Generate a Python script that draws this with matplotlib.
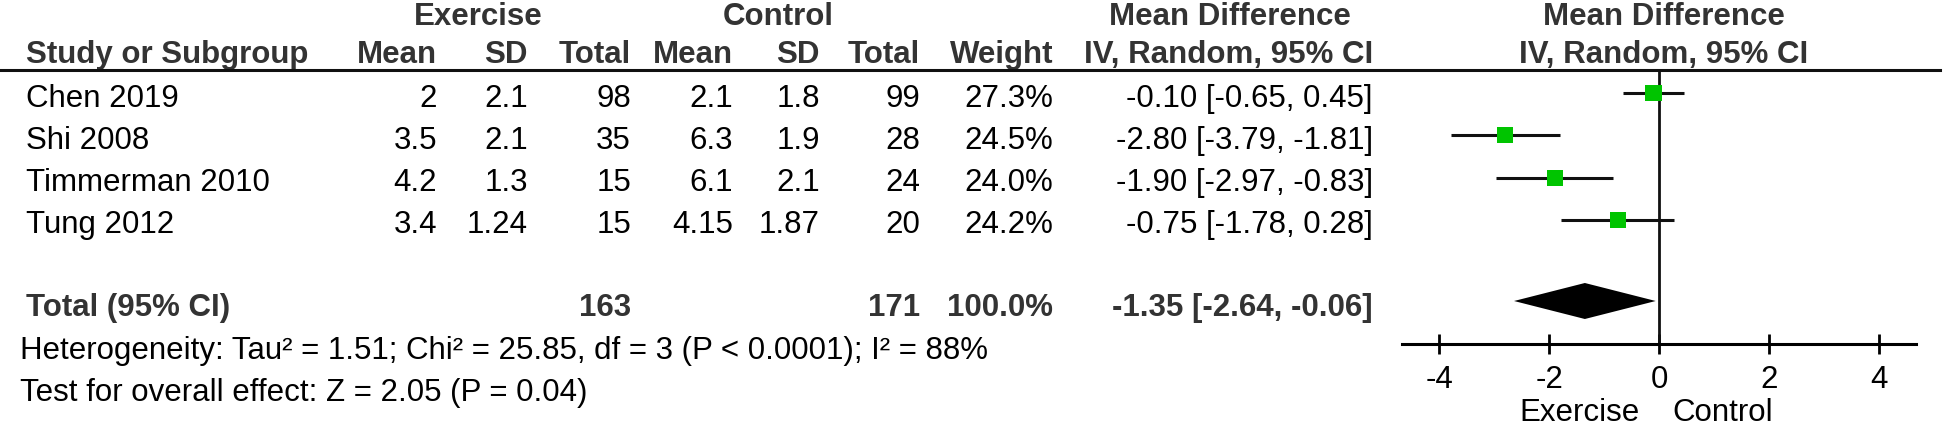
import numpy as np
import matplotlib.pyplot as plt
from matplotlib.lines import Line2D

plt.rcParams['font.family'] = ['Liberation Sans', 'DejaVu Sans']

# data
studies = ['Chen 2019', 'Shi 2008', 'Timmerman 2010', 'Tung 2012']
ex_mean = [2, 3.5, 4.2, 3.4]
ex_sd = [2.1, 2.1, 1.3, 1.24]
ex_n = [98, 35, 15, 15]
ct_mean = [2.1, 6.3, 6.1, 4.15]
ct_sd = [1.8, 1.9, 2.1, 1.87]
ct_n = [99, 28, 24, 20]
weight = [27.3, 24.5, 24.0, 24.2]
md = [-0.10, -2.80, -1.90, -0.75]
ci_lo = [-0.65, -3.79, -2.97, -1.78]
ci_hi = [0.45, -1.81, -0.83, 0.28]
total_md, total_lo, total_hi = -1.35, -2.64, -0.06
het_text = 'Heterogeneity: Tau² = 1.51; Chi² = 25.85, df = 3 (P < 0.0001); I² = 88%'
effect_text = 'Test for overall effect: Z = 2.05 (P = 0.04)'
xticks = [-4, -2, 0, 2, 4]

W, H = 1946, 428
fs = 22.5
hdr_col = '#333333'
green = '#00C400'

fig = plt.figure(figsize=(W / 100, H / 100), dpi=100)

# table part, pixel coordinates
tab = fig.add_axes([0, 0, 1, 1])
tab.set_xlim(0, W)
tab.set_ylim(H, 0)
tab.axis('off')

left_x = 26
col_right = [437, 528, 631, 733, 820, 920, 1053, 1373]
row_px = [99, 141, 183, 225]
total_px = 308

def bold(x, y, s, ha):
    tab.text(x, y, s, ha=ha, va='center', fontsize=fs, fontweight='bold', color=hdr_col)

# headers
bold(478, 17, 'Exercise', 'center')
bold(778, 17, 'Control', 'center')
bold(1230, 17, 'Mean Difference', 'center')
bold(1664, 17, 'Mean Difference', 'center')
bold(left_x, 55, 'Study or Subgroup', 'left')
for x, lab in zip(col_right, ['Mean', 'SD', 'Total', 'Mean', 'SD', 'Total', 'Weight', 'IV, Random, 95% CI']):
    bold(x, 55, lab, 'right')
bold(1664, 55, 'IV, Random, 95% CI', 'center')
fig.add_artist(Line2D([0, 1940 / W], [1 - 70 / H, 1 - 70 / H], color='#111111', lw=2.2))

# study rows
for i, y in enumerate(row_px):
    vals = [f'{ex_mean[i]:g}', f'{ex_sd[i]:g}', str(ex_n[i]),
            f'{ct_mean[i]:g}', f'{ct_sd[i]:g}', str(ct_n[i]),
            f'{weight[i]:.1f}%',
            f'{md[i]:.2f} [{ci_lo[i]:.2f}, {ci_hi[i]:.2f}]']
    tab.text(left_x, y, studies[i], ha='left', va='center', fontsize=fs)
    for x, v in zip(col_right, vals):
        tab.text(x, y, v, ha='right', va='center', fontsize=fs)

# total row
bold(left_x, total_px, 'Total (95% CI)', 'left')
bold(col_right[2], total_px, str(sum(ex_n)), 'right')
bold(col_right[5], total_px, str(sum(ct_n)), 'right')
bold(col_right[6], total_px, f'{sum(weight):.1f}%', 'right')
bold(col_right[7], total_px, f'{total_md:.2f} [{total_lo:.2f}, {total_hi:.2f}]', 'right')
tab.text(left_x - 6, 351, het_text, ha='left', va='center', fontsize=fs)
tab.text(left_x - 6, 393, effect_text, ha='left', va='center', fontsize=fs)

# forest plot
ax_l, ax_r, ax_t, ax_b = 1402, 1916, 70, 344
ax = fig.add_axes([ax_l / W, 1 - ax_b / H, (ax_r - ax_l) / W, (ax_b - ax_t) / H])
ax.set_xlim(-4.68, 4.68)
row_h = 42.3
ax.set_ylim((ax_b - 93) / row_h, (ax_t - 93) / row_h)
ax.patch.set_alpha(0)
for s in ['top', 'left', 'right']:
    ax.spines[s].set_visible(False)
ax.spines['bottom'].set_linewidth(2.2)
ax.set_yticks([])
ax.set_xticks(xticks)
ax.set_xticklabels([f'{t:g}' for t in xticks])
ax.tick_params(axis='x', direction='inout', length=14, width=2, labelsize=fs, pad=8)

ax.axvline(0, color='#111111', lw=2)
ys = np.arange(len(studies))
ax.hlines(ys, ci_lo, ci_hi, color='#111111', lw=2.2)
sizes = [(3.25 * np.sqrt(w) * 0.72) ** 2 for w in weight]
ax.scatter(md, ys, s=sizes, marker='s', color=green, zorder=3, linewidths=0)

total_y = (301 - 93) / row_h
dh = 18 / row_h
ax.fill([total_lo, total_md, total_hi, total_md],
        [total_y, total_y - dh, total_y, total_y + dh], color='black', lw=0, zorder=3)

tab.text(1640, 413, 'Exercise', ha='right', va='center', fontsize=fs)
tab.text(1672, 413, 'Control', ha='left', va='center', fontsize=fs)

fig.savefig('out.png', dpi=100)
